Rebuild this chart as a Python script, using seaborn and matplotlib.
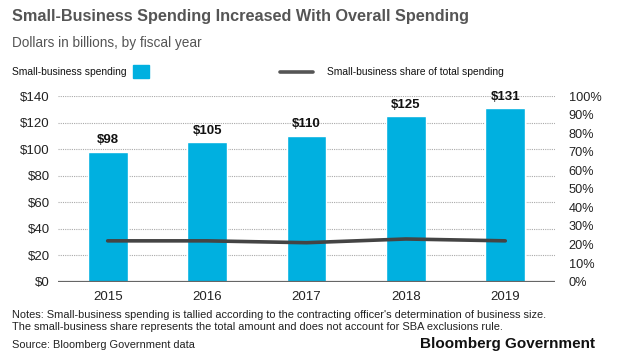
import matplotlib
matplotlib.use("Agg")
import matplotlib.pyplot as plt
import seaborn as sns
import pandas as pd

years = ["2015", "2016", "2017", "2018", "2019"]
spending = [98, 105, 110, 125, 131]
share = [22, 22, 21, 23, 22]
left_ticks = [0, 20, 40, 60, 80, 100, 120, 140]
right_ticks = [0, 10, 20, 30, 40, 50, 60, 70, 80, 90, 100]

df = pd.DataFrame({"year": years, "spending": spending, "share": share})

sns.set_theme(style="white")
plt.rcParams["font.family"] = ["Liberation Sans", "DejaVu Sans"]

bar_color = "#00b0e0"
text_gray = "#555555"

fig = plt.figure(figsize=(6.2, 3.53), dpi=100)
ax = fig.add_axes([0.0935, 0.202, 0.8016, 0.526])

sns.barplot(data=df, x="year", y="spending", color=bar_color, width=0.4,
            saturation=1, ax=ax)
ax.set_xlim(-0.5, 4.5)
ax.set_ylim(0, 140)
ax.set_yticks(left_ticks)
ax.set_yticklabels([f"${t}" for t in left_ticks])
ax.set_xlabel("")
ax.set_ylabel("")
for t in left_ticks[1:]:
    ax.axhline(t, color="#aaaaaa", lw=0.8, ls=(0, (1, 1)), zorder=0)
ax.axhline(0, color="#666666", lw=1.6, zorder=3)
for s in ax.spines.values():
    s.set_visible(False)
ax.tick_params(axis="both", length=0, labelsize=9.5, colors="#222222")
ax.tick_params(axis="y", pad=6)
ax.tick_params(axis="x", pad=7)

for i, v in enumerate(spending):
    ax.text(i, v + 4, f"${v}", ha="center", va="bottom", fontsize=9.5,
            fontweight="bold", color="#111111")

ax2 = ax.twinx()
sns.lineplot(x=list(range(len(years))), y=share, color="#444444", lw=2.6, ax=ax2)
ax2.set_ylim(0, 100)
ax2.set_yticks(right_ticks)
ax2.set_yticklabels([f"{t}%" for t in right_ticks])
ax2.set_ylabel("")
for s in ax2.spines.values():
    s.set_visible(False)
ax2.tick_params(axis="y", length=0, labelsize=9.2, colors="#222222", pad=10)
ax2.grid(False)

fig.text(0.019, 0.952, "Small-Business Spending Increased With Overall Spending",
         fontsize=11.7, fontweight="bold", color=text_gray, va="center")
fig.text(0.019, 0.878, "Dollars in billions, by fiscal year",
         fontsize=9.8, color=text_gray, va="center")

# legend drawn by hand, as in the reference
fig.text(0.019, 0.797, "Small-business spending", fontsize=7.4, color="#111111",
         va="center")
fig.patches.append(plt.Rectangle((0.215, 0.778), 0.026, 0.038, color=bar_color,
                                 transform=fig.transFigure, figure=fig))
fig.lines.append(plt.Line2D([0.452, 0.505], [0.797, 0.797], color="#555555", lw=2.6,
                            transform=fig.transFigure, figure=fig))
fig.text(0.527, 0.797, "Small-business share of total spending", fontsize=7.4,
         color="#111111", va="center")

fig.text(0.019, 0.107, "Notes: Small-business spending is tallied according to the contracting officer's determination of business size.",
         fontsize=7.9, color="#222222", va="center")
fig.text(0.019, 0.073, "The small-business share represents the total amount and does not account for SBA exclusions rule.",
         fontsize=7.9, color="#222222", va="center")
fig.text(0.019, 0.024, "Source: Bloomberg Government data",
         fontsize=7.9, color="#222222", va="center")
fig.text(0.96, 0.026, "Bloomberg Government", fontsize=11, color="#111111",
         va="center", ha="right", fontweight="bold")

fig.savefig("out.png", dpi=100)
